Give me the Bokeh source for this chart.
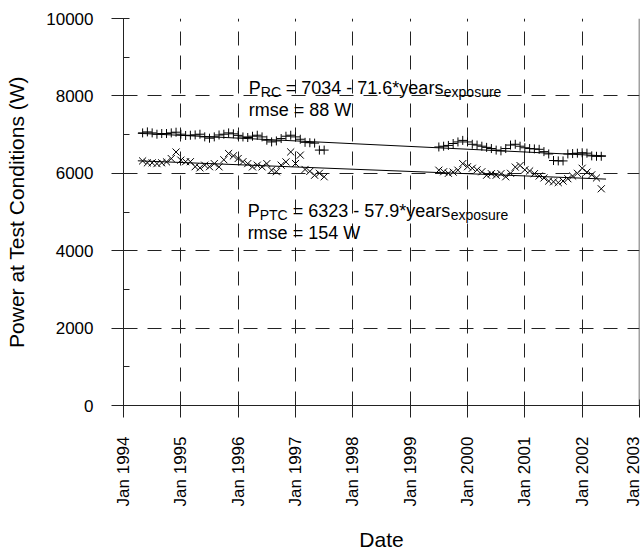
import math
from bokeh.plotting import figure
from bokeh.models import Range1d, FixedTicker, Label, Span
from bokeh.embed import file_html
from bokeh.resources import INLINE

# ---------------- data ----------------
dates_1 = ["1994-05", "1994-06", "1994-07", "1994-08", "1994-09", "1994-10", "1994-11", "1994-12",
           "1995-01", "1995-02", "1995-03", "1995-04", "1995-05", "1995-06", "1995-07", "1995-08",
           "1995-09", "1995-10", "1995-11", "1995-12",
           "1996-01", "1996-02", "1996-03", "1996-04", "1996-05", "1996-06", "1996-07", "1996-08",
           "1996-09", "1996-10", "1996-11", "1996-12",
           "1997-01", "1997-02", "1997-03", "1997-04", "1997-05", "1997-06", "1997-07"]
rc_1 = [7044, 7070, 7044, 7010, 7028, 7028, 7044, 7062, 7010, 6977,
        6984, 6992, 7010, 6941, 6907, 6941, 6990, 7010, 7044, 7020,
        6980, 6940, 6925, 6958, 6984, 6941, 6855, 6811, 6837, 6898,
        6958, 6984, 6941, 6880, 6800, 6790, 6780, 6600, 6600]
ptc_1 = [6320, 6270, 6270, 6250, 6270, 6295, 6380, 6550, 6340, 6300,
         6300, 6170, 6140, 6210, 6170, 6250, 6166, 6350, 6511, 6450,
         6382, 6300, 6250, 6166, 6210, 6166, 6250, 6080, 6040, 6210,
         6295, 6553, 6253, 6470, 6100, 6050, 5950, 6000, 5910]

dates_2 = ["1999-07", "1999-08", "1999-09", "1999-10", "1999-11", "1999-12",
           "2000-01", "2000-02", "2000-03", "2000-04", "2000-05", "2000-06", "2000-07", "2000-08",
           "2000-09", "2000-10", "2000-11", "2000-12",
           "2001-01", "2001-02", "2001-03", "2001-04", "2001-05", "2001-06", "2001-07", "2001-08",
           "2001-09", "2001-10", "2001-11", "2001-12",
           "2002-01", "2002-02", "2002-03", "2002-04", "2002-05"]
rc_2 = [6680, 6700, 6720, 6770, 6810, 6850, 6810, 6750, 6730, 6700,
        6670, 6640, 6600, 6580, 6640, 6730, 6750, 6700, 6660, 6640,
        6630, 6620, 6560, 6500, 6330, 6320, 6320, 6500, 6510, 6520,
        6530, 6520, 6450, 6440, 6440]
ptc_2 = [6080, 6040, 6000, 6030, 6080, 6250, 6170, 6130, 6090, 6040,
         5950, 5990, 5950, 5990, 5910, 6000, 6160, 6200, 6090, 6060,
         5990, 5930, 5880, 5800, 5780, 5760, 5800, 5860, 5930, 6000,
         6130, 6030, 5960, 5880, 5600]

# regression fits  P = a - b * years_exposure
exposure_start = "1994-04"
fit_end = "2002-06"
rc_fit = (7034, 71.6)
ptc_fit = (6323, 57.9)

year_ticks = [1994, 1995, 1996, 1997, 1998, 1999, 2000, 2001, 2002, 2003]
year_labels = ["Jan 1994", "Jan 1995", "Jan 1996", "Jan 1997", "Jan 1998",
               "Jan 1999", "Jan 2000", "Jan 2001", "Jan 2002", "Jan 2003"]
power_ticks = [0, 2000, 4000, 6000, 8000, 10000]
power_minor = [1000, 3000, 5000, 7000, 9000]


def to_year(s):
    y, m = s.split("-")
    return int(y) + (int(m) - 1) / 12.0


x1 = [to_year(d) for d in dates_1]
x2 = [to_year(d) for d in dates_2]
t0 = to_year(exposure_start)
t1 = to_year(fit_end)

FONT = "Liberation Sans"

p = figure(width=642, height=555, output_backend="svg", toolbar_location=None,
           x_range=Range1d(1994, 2003), y_range=Range1d(0, 10000),
           min_border_left=123, min_border_right=3, min_border_top=18, min_border_bottom=150)
p.outline_line_color = None
p.background_fill_color = "white"
p.border_fill_color = "white"

# axes
p.xaxis.ticker = FixedTicker(ticks=year_ticks)
p.xaxis.major_label_overrides = {t: l for t, l in zip(year_ticks, year_labels)}
p.xaxis.major_label_orientation = math.pi / 2
p.yaxis.ticker = FixedTicker(ticks=power_ticks, minor_ticks=power_minor)

for ax in (p.xaxis, p.yaxis):
    ax.axis_line_color = "#222222"
    ax.major_tick_line_color = "#222222"
    ax.major_tick_in = 6
    ax.major_tick_out = 12
    ax.major_label_text_font = FONT
    ax.major_label_text_font_size = "17px"
    ax.major_label_text_color = "black"
    ax.axis_label_text_font = FONT
    ax.axis_label_text_font_size = "21px"
    ax.axis_label_text_font_style = "normal"
    ax.axis_label_text_color = "black"

p.xaxis.minor_tick_line_color = None
p.yaxis.minor_tick_line_color = "#222222"
p.yaxis.minor_tick_in = 6
p.yaxis.minor_tick_out = 0
p.xaxis.major_label_standoff = 19
p.yaxis.major_label_standoff = 18
p.xaxis.axis_label = "Date"
p.yaxis.axis_label = "Power at Test Conditions (W)"
p.xaxis.axis_label_standoff = 19
p.yaxis.axis_label_standoff = 15

# grid
for g in (p.xgrid, p.ygrid):
    g.grid_line_color = "#222222"
    g.grid_line_dash = "14 10"
    g.grid_line_width = 1

p.add_layout(Span(location=2003, dimension="height", line_color="#444444", line_width=1.5))

# data markers
p.scatter(x1, rc_1, marker="cross", size=9, line_color="black", line_width=1)
p.scatter(x2, rc_2, marker="cross", size=9, line_color="black", line_width=1)
p.scatter(x1, ptc_1, marker="x", size=10, line_color="black", line_width=1)
p.scatter(x2, ptc_2, marker="x", size=10, line_color="black", line_width=1)

# regression lines
p.line([t0, t1], [rc_fit[0], rc_fit[0] - rc_fit[1] * (t1 - t0)], line_color="black", line_width=1)
p.line([t0, t1], [ptc_fit[0], ptc_fit[0] - ptc_fit[1] * (t1 - t0)], line_color="black", line_width=1)


# annotations with subscripts
def add_eq(x, y, sub, rest, sub_w, rmse_text, ystep):
    main = dict(text_font=FONT, text_font_size="18px", text_color="black", text_baseline="alphabetic")
    small = dict(text_font=FONT, text_font_size="14px", text_color="black", text_baseline="alphabetic")
    p.add_layout(Label(x=x, y=y, text="P", **main))
    p.add_layout(Label(x=x, y=y, x_offset=12, y_offset=-4, text=sub, **small))
    p.add_layout(Label(x=x, y=y, x_offset=12 + sub_w + 5, text=rest, **main))
    p.add_layout(Label(x=x, y=y, x_offset=12 + sub_w + 5 + 158, y_offset=-4, text="exposure", **small))
    p.add_layout(Label(x=x, y=y, y_offset=-ystep, text=rmse_text, **main))


add_eq(1996.185, 8212, "RC", "= 7034 - 71.6*years", 20, "rmse = 88 W", 22)
add_eq(1996.165, 5034, "PTC", "= 6323 - 57.9*years", 28, "rmse = 154 W", 22)

open("out.html", "w").write(file_html(p, INLINE))
